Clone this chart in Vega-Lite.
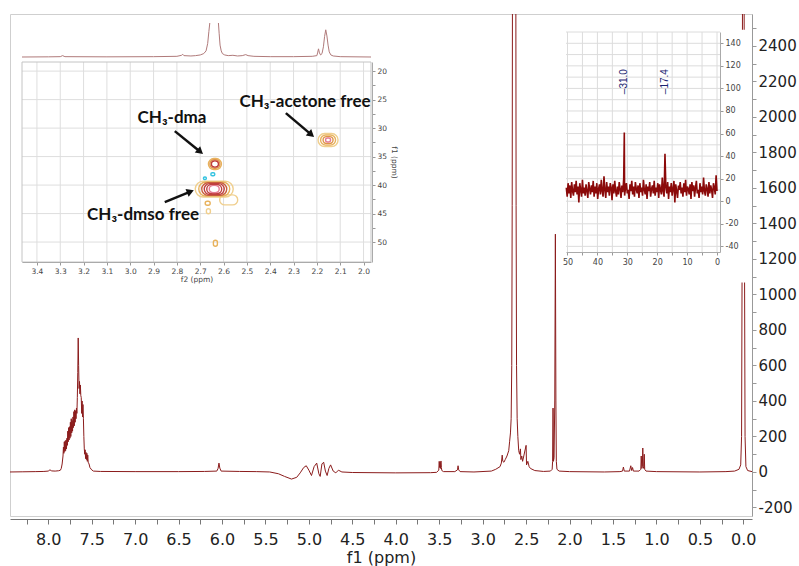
{
  "$schema": "https://vega.github.io/schema/vega-lite/v6.json",
  "width": 742,
  "height": 502,
  "autosize": {"type": "none"},
  "padding": {"left": 10, "top": 14, "right": 47, "bottom": 50},
  "background": "white",
  "config": {
    "font": "DejaVu Sans",
    "view": {"stroke": "#cfcfcf", "strokeWidth": 1},
    "axis": {"labelOverlap": false, "labelFlush": false, "grid": false, "labelBound": false}
  },
  "datasets": {
    "main": [
      {"p": 8.44, "i": 0}, {"p": 8.3, "i": 1}, {"p": 8.15, "i": 2}, {"p": 8.05, "i": 3}, {"p": 8.0, "i": 5}, {"p": 7.98, "i": 12}, {"p": 7.96, "i": 6}, {"p": 7.92, "i": 5}, {"p": 7.88, "i": 7},
      {"p": 7.86, "i": 10}, {"p": 7.85, "i": 20}, {"p": 7.84, "i": 45}, {"p": 7.83, "i": 90}, {"p": 7.825, "i": 140}, {"p": 7.82, "i": 105}, {"p": 7.815, "i": 170}, {"p": 7.81, "i": 115}, {"p": 7.805, "i": 175}, {"p": 7.8, "i": 120}, {"p": 7.795, "i": 180}, {"p": 7.79, "i": 130}, {"p": 7.785, "i": 190}, {"p": 7.78, "i": 150}, {"p": 7.775, "i": 230}, {"p": 7.77, "i": 170}, {"p": 7.765, "i": 250}, {"p": 7.76, "i": 180}, {"p": 7.755, "i": 255}, {"p": 7.75, "i": 190}, {"p": 7.745, "i": 280}, {"p": 7.74, "i": 200}, {"p": 7.735, "i": 300}, {"p": 7.73, "i": 220}, {"p": 7.725, "i": 290}, {"p": 7.72, "i": 230}, {"p": 7.715, "i": 310}, {"p": 7.71, "i": 250}, {"p": 7.705, "i": 340}, {"p": 7.7, "i": 260}, {"p": 7.695, "i": 350}, {"p": 7.69, "i": 280}, {"p": 7.685, "i": 345}, {"p": 7.68, "i": 300}, {"p": 7.675, "i": 360}, {"p": 7.67, "i": 330}, {"p": 7.665, "i": 420}, {"p": 7.66, "i": 560}, {"p": 7.655, "i": 755}, {"p": 7.65, "i": 600}, {"p": 7.645, "i": 470}, {"p": 7.64, "i": 510}, {"p": 7.635, "i": 440}, {"p": 7.63, "i": 490}, {"p": 7.625, "i": 430}, {"p": 7.62, "i": 420}, {"p": 7.615, "i": 330}, {"p": 7.61, "i": 400}, {"p": 7.605, "i": 310}, {"p": 7.6, "i": 380}, {"p": 7.595, "i": 300}, {"p": 7.59, "i": 200}, {"p": 7.585, "i": 130}, {"p": 7.58, "i": 100}, {"p": 7.575, "i": 125}, {"p": 7.57, "i": 75}, {"p": 7.565, "i": 110}, {"p": 7.56, "i": 70}, {"p": 7.555, "i": 105}, {"p": 7.55, "i": 60}, {"p": 7.545, "i": 95}, {"p": 7.54, "i": 55}, {"p": 7.53, "i": 45}, {"p": 7.52, "i": 25}, {"p": 7.5, "i": 12}, {"p": 7.48, "i": 5},
      {"p": 7.4, "i": 3}, {"p": 7.0, "i": 2}, {"p": 6.5, "i": 2}, {"p": 6.2, "i": 3}, {"p": 6.06, "i": 5}, {"p": 6.045, "i": 20}, {"p": 6.035, "i": 50}, {"p": 6.025, "i": 22}, {"p": 6.01, "i": 5}, {"p": 5.8, "i": 3}, {"p": 5.6, "i": 2},
      {"p": 5.45, "i": 0}, {"p": 5.35, "i": -10}, {"p": 5.28, "i": -25}, {"p": 5.2, "i": -40}, {"p": 5.14, "i": -30}, {"p": 5.1, "i": -5}, {"p": 5.06, "i": 25}, {"p": 5.03, "i": 35}, {"p": 5.0, "i": 10}, {"p": 4.97, "i": -20}, {"p": 4.94, "i": 30}, {"p": 4.91, "i": 50}, {"p": 4.885, "i": -10}, {"p": 4.87, "i": -25}, {"p": 4.85, "i": 45}, {"p": 4.83, "i": 55}, {"p": 4.81, "i": 5}, {"p": 4.79, "i": -20}, {"p": 4.77, "i": 20}, {"p": 4.75, "i": 40}, {"p": 4.72, "i": 5}, {"p": 4.69, "i": -5}, {"p": 4.66, "i": 10}, {"p": 4.62, "i": 0}, {"p": 4.5, "i": -3}, {"p": 4.0, "i": -5}, {"p": 3.6, "i": -4},
      {"p": 3.53, "i": -2}, {"p": 3.505, "i": 10}, {"p": 3.5, "i": 60}, {"p": 3.495, "i": 25}, {"p": 3.49, "i": 55}, {"p": 3.485, "i": 20}, {"p": 3.48, "i": 62}, {"p": 3.475, "i": 25}, {"p": 3.47, "i": 8}, {"p": 3.45, "i": 2}, {"p": 3.32, "i": 2}, {"p": 3.29, "i": 12}, {"p": 3.283, "i": 35}, {"p": 3.276, "i": 12}, {"p": 3.26, "i": 2}, {"p": 3.1, "i": 0},
      {"p": 2.9, "i": 5}, {"p": 2.85, "i": 15}, {"p": 2.8, "i": 30}, {"p": 2.785, "i": 50}, {"p": 2.775, "i": 95}, {"p": 2.768, "i": 60}, {"p": 2.755, "i": 55}, {"p": 2.74, "i": 70}, {"p": 2.72, "i": 90}, {"p": 2.7, "i": 120}, {"p": 2.69, "i": 170}, {"p": 2.68, "i": 220}, {"p": 2.672, "i": 300}, {"p": 2.665, "i": 600}, {"p": 2.66, "i": 1500}, {"p": 2.655, "i": 3500}, {"p": 2.637, "i": 5000}, {"p": 2.62, "i": 3500}, {"p": 2.615, "i": 1500}, {"p": 2.61, "i": 600}, {"p": 2.603, "i": 300}, {"p": 2.595, "i": 200}, {"p": 2.585, "i": 120}, {"p": 2.575, "i": 100}, {"p": 2.565, "i": 130}, {"p": 2.56, "i": 70}, {"p": 2.55, "i": 90}, {"p": 2.54, "i": 60}, {"p": 2.5, "i": 150}, {"p": 2.495, "i": 40}, {"p": 2.48, "i": 60}, {"p": 2.465, "i": 30}, {"p": 2.45, "i": 20}, {"p": 2.4, "i": 8}, {"p": 2.3, "i": 3},
      {"p": 2.22, "i": 5}, {"p": 2.2, "i": 15}, {"p": 2.195, "i": 60}, {"p": 2.19, "i": 360}, {"p": 2.185, "i": 60}, {"p": 2.178, "i": 80}, {"p": 2.17, "i": 400}, {"p": 2.163, "i": 1340}, {"p": 2.157, "i": 400}, {"p": 2.152, "i": 60}, {"p": 2.145, "i": 15}, {"p": 2.12, "i": 5}, {"p": 2.0, "i": 2}, {"p": 1.6, "i": 0},
      {"p": 1.42, "i": 2}, {"p": 1.39, "i": 5}, {"p": 1.38, "i": 28}, {"p": 1.37, "i": 5}, {"p": 1.31, "i": 5}, {"p": 1.295, "i": 35}, {"p": 1.285, "i": 8}, {"p": 1.275, "i": 25}, {"p": 1.265, "i": 5}, {"p": 1.2, "i": 5}, {"p": 1.18, "i": 15}, {"p": 1.175, "i": 90}, {"p": 1.168, "i": 20}, {"p": 1.162, "i": 30}, {"p": 1.157, "i": 135}, {"p": 1.152, "i": 30}, {"p": 1.145, "i": 20}, {"p": 1.14, "i": 100}, {"p": 1.135, "i": 15}, {"p": 1.12, "i": 5}, {"p": 1.0, "i": 2}, {"p": 0.5, "i": 0}, {"p": 0.2, "i": 2},
      {"p": 0.1, "i": 5}, {"p": 0.05, "i": 15}, {"p": 0.03, "i": 40}, {"p": 0.02, "i": 200}, {"p": 0.012, "i": 1500}, {"p": 0.005, "i": 5000}, {"p": -0.005, "i": 5000}, {"p": -0.012, "i": 1500}, {"p": -0.02, "i": 200}, {"p": -0.03, "i": 30}, {"p": -0.05, "i": 8}, {"p": -0.1, "i": 2}
    ],
    "noise": [
      {"c": 50.4, "v": 12}, {"c": 50.1, "v": 4}, {"c": 49.8, "v": 16}, {"c": 49.5, "v": 7}, {"c": 49.2, "v": 14}, {"c": 48.9, "v": 3}, {"c": 48.6, "v": 17}, {"c": 48.3, "v": 9}, {"c": 48.0, "v": 5}, {"c": 47.7, "v": 15},
      {"c": 47.4, "v": 8}, {"c": 47.1, "v": 18}, {"c": 46.8, "v": 6}, {"c": 46.5, "v": 13}, {"c": 46.2, "v": -1}, {"c": 45.9, "v": 16}, {"c": 45.6, "v": 10}, {"c": 45.3, "v": 4}, {"c": 45.0, "v": 19}, {"c": 44.7, "v": 7},
      {"c": 44.4, "v": 12}, {"c": 44.1, "v": 5}, {"c": 43.8, "v": 15}, {"c": 43.5, "v": 9}, {"c": 43.2, "v": 3}, {"c": 42.9, "v": 17}, {"c": 42.6, "v": 11}, {"c": 42.3, "v": 6}, {"c": 42.0, "v": 14}, {"c": 41.7, "v": 8},
      {"c": 41.4, "v": 18}, {"c": 41.1, "v": 4}, {"c": 40.8, "v": 13}, {"c": 40.5, "v": 7}, {"c": 40.2, "v": 16}, {"c": 39.9, "v": 2}, {"c": 39.6, "v": 11}, {"c": 39.3, "v": 15}, {"c": 39.0, "v": 6}, {"c": 38.7, "v": 19},
      {"c": 38.4, "v": 9}, {"c": 38.1, "v": 4}, {"c": 37.8, "v": 22}, {"c": 37.5, "v": 10}, {"c": 37.2, "v": 3}, {"c": 36.9, "v": 17}, {"c": 36.6, "v": 8}, {"c": 36.3, "v": 13}, {"c": 36.0, "v": 5}, {"c": 35.7, "v": 16},
      {"c": 35.4, "v": 12}, {"c": 35.1, "v": 1}, {"c": 34.8, "v": 15}, {"c": 34.5, "v": 7}, {"c": 34.2, "v": 18}, {"c": 33.9, "v": 9}, {"c": 33.6, "v": 4}, {"c": 33.3, "v": 13}, {"c": 33.0, "v": 6}, {"c": 32.7, "v": 17},
      {"c": 32.4, "v": 11}, {"c": 32.1, "v": 3}, {"c": 31.8, "v": 14}, {"c": 31.5, "v": 8}, {"c": 31.2, "v": 20}, {"c": 31.0, "v": 61}, {"c": 30.9, "v": 5}, {"c": 30.6, "v": 12}, {"c": 30.3, "v": 16}, {"c": 30.0, "v": 7}, {"c": 29.7, "v": 10},
      {"c": 29.4, "v": 2}, {"c": 29.1, "v": 15}, {"c": 28.8, "v": 9}, {"c": 28.5, "v": 18}, {"c": 28.2, "v": 6}, {"c": 27.9, "v": 13}, {"c": 27.6, "v": 4}, {"c": 27.3, "v": 17}, {"c": 27.0, "v": 11}, {"c": 26.7, "v": 7},
      {"c": 26.4, "v": 14}, {"c": 26.1, "v": 3}, {"c": 25.8, "v": 16}, {"c": 25.5, "v": 8}, {"c": 25.2, "v": 12}, {"c": 24.9, "v": 5}, {"c": 24.6, "v": 19}, {"c": 24.3, "v": 10}, {"c": 24.0, "v": 6}, {"c": 23.7, "v": 15},
      {"c": 23.4, "v": 2}, {"c": 23.1, "v": 13}, {"c": 22.8, "v": 9}, {"c": 22.5, "v": 17}, {"c": 22.2, "v": 4}, {"c": 21.9, "v": 11}, {"c": 21.6, "v": 14}, {"c": 21.3, "v": 7}, {"c": 21.0, "v": 18}, {"c": 20.7, "v": 5},
      {"c": 20.4, "v": 12}, {"c": 20.1, "v": 8}, {"c": 19.8, "v": 16}, {"c": 19.5, "v": 3}, {"c": 19.2, "v": 15}, {"c": 18.9, "v": 10}, {"c": 18.6, "v": 6}, {"c": 18.3, "v": 21}, {"c": 18.0, "v": 9}, {"c": 17.7, "v": 4},
      {"c": 17.4, "v": 42}, {"c": 17.1, "v": 12}, {"c": 16.8, "v": 7}, {"c": 16.5, "v": 17}, {"c": 16.2, "v": 2}, {"c": 15.9, "v": 13}, {"c": 15.6, "v": 8}, {"c": 15.3, "v": 16}, {"c": 15.0, "v": 5}, {"c": 14.7, "v": 11},
      {"c": 14.4, "v": 18}, {"c": 14.1, "v": -1}, {"c": 13.8, "v": 15}, {"c": 13.5, "v": 9}, {"c": 13.2, "v": 3}, {"c": 12.9, "v": 14}, {"c": 12.6, "v": 10}, {"c": 12.3, "v": 17}, {"c": 12.0, "v": 7}, {"c": 11.7, "v": 12},
      {"c": 11.4, "v": 4}, {"c": 11.1, "v": 16}, {"c": 10.8, "v": 8}, {"c": 10.5, "v": 19}, {"c": 10.2, "v": 5}, {"c": 9.9, "v": 13}, {"c": 9.6, "v": 11}, {"c": 9.3, "v": 6}, {"c": 9.0, "v": 15}, {"c": 8.7, "v": 2},
      {"c": 8.4, "v": 17}, {"c": 8.1, "v": 9}, {"c": 7.8, "v": 14}, {"c": 7.5, "v": 4}, {"c": 7.2, "v": 12}, {"c": 6.9, "v": 18}, {"c": 6.6, "v": 7}, {"c": 6.3, "v": 10}, {"c": 6.0, "v": 3}, {"c": 5.7, "v": 16},
      {"c": 5.4, "v": 8}, {"c": 5.1, "v": 13}, {"c": 4.8, "v": 6}, {"c": 4.5, "v": 21}, {"c": 4.2, "v": 9}, {"c": 3.9, "v": 5}, {"c": 3.6, "v": 15}, {"c": 3.3, "v": 11}, {"c": 3.0, "v": 4}, {"c": 2.7, "v": 17},
      {"c": 2.4, "v": 7}, {"c": 2.1, "v": 14}, {"c": 1.8, "v": 10}, {"c": 1.5, "v": 3}, {"c": 1.2, "v": 16}, {"c": 0.9, "v": 12}, {"c": 0.6, "v": 6}, {"c": 0.3, "v": 23}, {"c": 0.0, "v": 9}
    ],
    "peaks13": [{"c": 31.0, "t": "–31.0"}, {"c": 17.4, "t": "–17.4"}],
    "proj": [
      {"p": 3.464, "i": 0, "seg": "a"}, {"p": 3.35, "i": 0.5, "seg": "a"}, {"p": 3.3, "i": 1, "seg": "a"}, {"p": 3.29, "i": 4, "seg": "a"}, {"p": 3.28, "i": 1, "seg": "a"}, {"p": 3.1, "i": 0.5, "seg": "a"}, {"p": 2.9, "i": 1, "seg": "a"}, {"p": 2.8, "i": 2, "seg": "a"}, {"p": 2.78, "i": 5, "seg": "a"}, {"p": 2.775, "i": 8, "seg": "a"}, {"p": 2.77, "i": 4, "seg": "a"}, {"p": 2.74, "i": 3, "seg": "a"}, {"p": 2.72, "i": 4, "seg": "a"}, {"p": 2.7, "i": 6, "seg": "a"}, {"p": 2.685, "i": 10, "seg": "a"}, {"p": 2.675, "i": 18, "seg": "a"}, {"p": 2.668, "i": 40, "seg": "a"}, {"p": 2.663, "i": 75, "seg": "a"}, {"p": 2.659, "i": 100, "seg": "a"},
      {"p": 2.622, "i": 100, "seg": "b"}, {"p": 2.619, "i": 70, "seg": "b"}, {"p": 2.615, "i": 35, "seg": "b"}, {"p": 2.61, "i": 18, "seg": "b"}, {"p": 2.605, "i": 10, "seg": "b"}, {"p": 2.595, "i": 6, "seg": "b"}, {"p": 2.58, "i": 4, "seg": "b"}, {"p": 2.56, "i": 5, "seg": "b"}, {"p": 2.54, "i": 3, "seg": "b"}, {"p": 2.52, "i": 4, "seg": "b"}, {"p": 2.505, "i": 7, "seg": "b"}, {"p": 2.495, "i": 4, "seg": "b"}, {"p": 2.47, "i": 2, "seg": "b"}, {"p": 2.4, "i": 1, "seg": "b"}, {"p": 2.3, "i": 1, "seg": "b"}, {"p": 2.22, "i": 2, "seg": "b"}, {"p": 2.2, "i": 4, "seg": "b"}, {"p": 2.197, "i": 12, "seg": "b"}, {"p": 2.193, "i": 24, "seg": "b"}, {"p": 2.189, "i": 12, "seg": "b"}, {"p": 2.184, "i": 6, "seg": "b"}, {"p": 2.178, "i": 10, "seg": "b"}, {"p": 2.172, "i": 30, "seg": "b"}, {"p": 2.167, "i": 60, "seg": "b"}, {"p": 2.162, "i": 80, "seg": "b"}, {"p": 2.157, "i": 62, "seg": "b"}, {"p": 2.152, "i": 35, "seg": "b"}, {"p": 2.147, "i": 15, "seg": "b"}, {"p": 2.14, "i": 6, "seg": "b"}, {"p": 2.13, "i": 3, "seg": "b"}, {"p": 2.1, "i": 1, "seg": "b"}, {"p": 1.968, "i": 0, "seg": "b"}
    ],
    "contour": [
      {"x1": 2.7214, "x2": 2.5586, "y1": 39.3, "y2": 42.1, "lvl": "1"},
      {"x1": 2.6166, "x2": 2.5394, "y1": 41.72, "y2": 43.48, "lvl": "1"},
      {"x1": 2.7064, "x2": 2.5736, "y1": 39.47, "y2": 41.93, "lvl": "2"},
      {"x1": 2.6936, "x2": 2.5864, "y1": 39.6, "y2": 41.8, "lvl": "4"},
      {"x1": 2.6829, "x2": 2.5971, "y1": 39.74, "y2": 41.67, "lvl": "5"},
      {"x1": 2.6721, "x2": 2.6079, "y1": 39.91, "y2": 41.49, "lvl": "5"},
      {"x1": 2.6614, "x2": 2.6186, "y1": 40.09, "y2": 41.31, "lvl": "6"},
      {"x1": 2.6507, "x2": 2.6293, "y1": 40.35, "y2": 41.05, "lvl": "7"},
      {"x1": 2.6649, "x2": 2.6091, "y1": 35.34, "y2": 37.27, "lvl": "2"},
      {"x1": 2.6584, "x2": 2.6156, "y1": 35.55, "y2": 37.05, "lvl": "3"},
      {"x1": 2.652, "x2": 2.622, "y1": 35.77, "y2": 36.83, "lvl": "5"},
      {"x1": 2.6445, "x2": 2.6295, "y1": 36.04, "y2": 36.56, "lvl": "7"},
      {"x1": 2.1949, "x2": 2.1091, "y1": 30.96, "y2": 33.24, "lvl": "1"},
      {"x1": 2.1841, "x2": 2.1199, "y1": 31.22, "y2": 32.98, "lvl": "2"},
      {"x1": 2.1734, "x2": 2.1306, "y1": 31.49, "y2": 32.71, "lvl": "3"},
      {"x1": 2.1627, "x2": 2.1413, "y1": 31.75, "y2": 32.45, "lvl": "6"},
      {"x1": 2.6787, "x2": 2.6573, "y1": 42.85, "y2": 43.55, "lvl": "2"},
      {"x1": 2.6736, "x2": 2.6564, "y1": 44.16, "y2": 45.04, "lvl": "1"},
      {"x1": 2.6436, "x2": 2.6264, "y1": 49.67, "y2": 50.73, "lvl": "2"},
      {"x1": 2.6546, "x2": 2.6374, "y1": 37.84, "y2": 38.36, "lvl": "c"},
      {"x1": 2.6864, "x2": 2.6736, "y1": 38.58, "y2": 39.02, "lvl": "c"}
    ],
    "arrows": [
      {"x": 2.809, "y": 30.53, "x2": 2.7, "y2": 34.15, "dir": "down"},
      {"x": 2.333, "y": 27.37, "x2": 2.224, "y2": 31.15, "dir": "down"},
      {"x": 2.852, "y": 42.98, "x2": 2.742, "y2": 41.15, "dir": "up"}
    ],
    "notes": [
      {"x": 2.821, "y": 28.25, "t": "CH₃-dma"},
      {"x": 2.945, "y": 45.26, "t": "CH₃-dmso free"},
      {"x": 2.251, "y": 25.4, "t": "CH₃-acetone free"}
    ],
    "g1v": [{"g": 3.4}, {"g": 3.3}, {"g": 3.2}, {"g": 3.1}, {"g": 3.0}, {"g": 2.9}, {"g": 2.8}, {"g": 2.7}, {"g": 2.6}, {"g": 2.5}, {"g": 2.4}, {"g": 2.3}, {"g": 2.2}, {"g": 2.1}, {"g": 2.0}],
    "g1h": [{"h": 20}, {"h": 25}, {"h": 30}, {"h": 35}, {"h": 40}, {"h": 45}, {"h": 50}],
    "g2v": [{"g": 0}, {"g": 5}, {"g": 10}, {"g": 15}, {"g": 20}, {"g": 25}, {"g": 30}, {"g": 35}, {"g": 40}, {"g": 45}, {"g": 50}],
    "g2h": [{"h": -40}, {"h": -30}, {"h": -20}, {"h": -10}, {"h": 0}, {"h": 10}, {"h": 20}, {"h": 30}, {"h": 40}, {"h": 50}, {"h": 60}, {"h": 70}, {"h": 80}, {"h": 90}, {"h": 100}, {"h": 110}, {"h": 120}, {"h": 130}, {"h": 140}, {"h": 150}]
  },
  "layer": [
    {
      "data": {"name": "main"},
      "mark": {"type": "line", "clip": true, "color": "#8b1c1c", "strokeWidth": 1},
      "encoding": {
        "x": {
          "field": "p", "type": "quantitative",
          "scale": {"domain": [-0.1, 8.44], "reverse": true, "nice": false, "zero": false},
          "axis": {
            "orient": "bottom", "offset": 3,
            "values": [8.25, 8, 7.75, 7.5, 7.25, 7, 6.75, 6.5, 6.25, 6, 5.75, 5.5, 5.25, 5, 4.75, 4.5, 4.25, 4, 3.75, 3.5, 3.25, 3, 2.75, 2.5, 2.25, 2, 1.75, 1.5, 1.25, 1, 0.75, 0.5, 0.25, 0],
            "labelExpr": "round(datum.value*4) % 2 == 0 ? format(datum.value, '.1f') : ''",
            "title": "f1 (ppm)", "titleFontSize": 16, "titleFontWeight": "normal", "titleColor": "#222", "titlePadding": 2,
            "labelFontSize": 16, "labelColor": "#222", "labelPadding": 7,
            "domainColor": "#777", "tickColor": "#777", "tickSize": 5
          }
        },
        "y": {
          "field": "i", "type": "quantitative",
          "scale": {"domain": [-248, 2580], "nice": false, "zero": false},
          "axis": {
            "orient": "right",
            "values": [-200, -100, 0, 100, 200, 300, 400, 500, 600, 700, 800, 900, 1000, 1100, 1200, 1300, 1400, 1500, 1600, 1700, 1800, 1900, 2000, 2100, 2200, 2300, 2400, 2500],
            "labelExpr": "round(datum.value) % 200 == 0 ? (datum.value < 0 ? '-' + format(-datum.value, 'd') : format(datum.value, 'd')) : ''",
            "title": null, "labelFontSize": 15, "labelColor": "#222", "labelPadding": 2,
            "domainColor": "#999", "tickColor": "#999", "tickSize": 4
          }
        }
      }
    },
    {
      "layer": [
        {
          "data": {"values": [{}]},
          "mark": {"type": "rect", "fill": "white", "stroke": null},
          "encoding": {
            "x": {"datum": 51.5, "type": "quantitative", "scale": {"domain": [-1, 50.5], "reverse": true, "range": [556, 710], "nice": false, "zero": false}},
            "x2": {"datum": -10},
            "y": {"datum": 152, "type": "quantitative", "scale": {"domain": [-45, 150], "range": [238, 18], "nice": false, "zero": false}},
            "y2": {"datum": -72}
          }
        },
        {
          "data": {"name": "g2v"},
          "mark": {"type": "rule", "color": "#dcdcdc", "strokeWidth": 1},
          "encoding": {
            "x": {"field": "g", "type": "quantitative", "scale": {"domain": [-1, 50.5], "reverse": true, "range": [556, 710], "nice": false, "zero": false}},
            "y": {"datum": -45, "type": "quantitative", "scale": {"domain": [-45, 150], "range": [238, 18], "nice": false, "zero": false}},
            "y2": {"datum": 150}
          }
        },
        {
          "data": {"name": "g2h"},
          "mark": {"type": "rule", "color": "#dcdcdc", "strokeWidth": 1},
          "encoding": {
            "x": {"datum": 50.5, "type": "quantitative", "scale": {"domain": [-1, 50.5], "reverse": true, "range": [556, 710], "nice": false, "zero": false}},
            "x2": {"datum": -1},
            "y": {"field": "h", "type": "quantitative", "scale": {"domain": [-45, 150], "range": [238, 18], "nice": false, "zero": false}}
          }
        },
        {
          "data": {"name": "noise"},
          "mark": {"type": "line", "color": "#8b0a0a", "strokeWidth": 1.6},
          "encoding": {
            "x": {
              "field": "c", "type": "quantitative",
              "scale": {"domain": [-1, 50.5], "reverse": true, "range": [556, 710], "nice": false, "zero": false},
              "axis": {
                "orient": "bottom", "offset": -264, "zindex": 3,
                "values": [0, 2.5, 5, 7.5, 10, 12.5, 15, 17.5, 20, 22.5, 25, 27.5, 30, 32.5, 35, 37.5, 40, 42.5, 45, 47.5, 50],
                "labelExpr": "round(datum.value*2) % 20 == 0 ? format(datum.value, 'd') : ''",
                "title": null, "labelFontSize": 8, "labelColor": "#444", "labelPadding": 3,
                "domainColor": "#aaa", "tickColor": "#999", "tickSize": 3
              }
            },
            "y": {
              "field": "v", "type": "quantitative",
              "scale": {"domain": [-45, 150], "range": [238, 18], "nice": false, "zero": false},
              "axis": {
                "orient": "right", "offset": -32, "zindex": 3,
                "values": [-40, -30, -20, -10, 0, 10, 20, 30, 40, 50, 60, 70, 80, 90, 100, 110, 120, 130, 140],
                "labelExpr": "round(datum.value) % 20 == 0 ? (datum.value < 0 ? '-' + format(-datum.value, 'd') : format(datum.value, 'd')) : ''",
                "title": null, "labelFontSize": 8, "labelColor": "#444", "labelPadding": 2,
                "domainColor": "#aaa", "tickColor": "#999", "tickSize": 3
              }
            }
          }
        },
        {
          "data": {"name": "peaks13"},
          "mark": {"type": "text", "angle": 270, "fontSize": 10, "color": "#1a2470", "align": "center", "baseline": "middle", "font": "Liberation Sans"},
          "encoding": {
            "x": {"field": "c", "type": "quantitative", "scale": {"domain": [-1, 50.5], "reverse": true, "range": [556, 710], "nice": false, "zero": false}},
            "y": {"datum": 106, "type": "quantitative", "scale": {"domain": [-45, 150], "range": [238, 18], "nice": false, "zero": false}},
            "text": {"field": "t"}
          }
        }
      ]
    },
    {
      "data": {"name": "proj"},
      "mark": {"type": "line", "color": "#b07a7a", "strokeWidth": 1},
      "encoding": {
        "x": {"field": "p", "type": "quantitative", "scale": {"domain": [1.968, 3.464], "reverse": true, "range": [12, 361], "nice": false, "zero": false}, "axis": null},
        "y": {"field": "i", "type": "quantitative", "scale": {"domain": [0, 100], "range": [43, 9], "nice": false, "zero": false}, "axis": null},
        "detail": {"field": "seg"}
      }
    },
    {
      "layer": [
        {
          "data": {"name": "g1v"},
          "mark": {"type": "rule", "color": "#dedede", "strokeWidth": 1},
          "encoding": {
            "x": {"field": "g", "type": "quantitative", "scale": {"domain": [1.968, 3.464], "reverse": true, "range": [12, 361], "nice": false, "zero": false}},
            "y": {"datum": 18.4, "type": "quantitative", "scale": {"domain": [18.4, 53.5], "range": [48, 248], "nice": false, "zero": false}},
            "y2": {"datum": 53.5}
          }
        },
        {
          "data": {"name": "g1h"},
          "mark": {"type": "rule", "color": "#dedede", "strokeWidth": 1},
          "encoding": {
            "x": {"datum": 3.464, "type": "quantitative", "scale": {"domain": [1.968, 3.464], "reverse": true, "range": [12, 361], "nice": false, "zero": false}},
            "x2": {"datum": 1.968},
            "y": {"field": "h", "type": "quantitative", "scale": {"domain": [18.4, 53.5], "range": [48, 248], "nice": false, "zero": false}}
          }
        },
        {
          "data": {"values": [{}]},
          "mark": {"type": "rect", "fill": null, "stroke": "#c4c4c4", "strokeWidth": 1},
          "encoding": {
            "x": {"datum": 3.464, "type": "quantitative", "scale": {"domain": [1.968, 3.464], "reverse": true, "range": [12, 361], "nice": false, "zero": false}},
            "x2": {"datum": 1.968},
            "y": {"datum": 18.4, "type": "quantitative", "scale": {"domain": [18.4, 53.5], "range": [48, 248], "nice": false, "zero": false}},
            "y2": {"datum": 53.5}
          }
        },
        {
          "data": {"name": "contour"},
          "mark": {"type": "rect", "filled": false, "cornerRadius": 40, "strokeWidth": 1.4},
          "encoding": {
            "x": {
              "field": "x1", "type": "quantitative",
              "scale": {"domain": [1.968, 3.464], "reverse": true, "range": [12, 361], "nice": false, "zero": false},
              "axis": {
                "orient": "bottom", "offset": -254, "zindex": 3,
                "values": [3.4, 3.35, 3.3, 3.25, 3.2, 3.15, 3.1, 3.05, 3.0, 2.95, 2.9, 2.85, 2.8, 2.75, 2.7, 2.65, 2.6, 2.55, 2.5, 2.45, 2.4, 2.35, 2.3, 2.25, 2.2, 2.15, 2.1, 2.05, 2.0],
                "labelExpr": "round(datum.value*20) % 2 == 0 ? format(datum.value, '.1f') : ''",
                "title": "f2 (ppm)", "titleFontSize": 7.5, "titleFontWeight": "normal", "titleColor": "#444", "titlePadding": 1,
                "labelFontSize": 7.5, "labelColor": "#444", "labelPadding": 2,
                "domainColor": "#aaa", "tickColor": "#999", "tickSize": 3
              }
            },
            "x2": {"field": "x2"},
            "y": {
              "field": "y1", "type": "quantitative",
              "scale": {"domain": [18.4, 53.5], "range": [48, 248], "nice": false, "zero": false},
              "axis": {
                "orient": "right", "offset": -380, "zindex": 3,
                "values": [20, 22.5, 25, 27.5, 30, 32.5, 35, 37.5, 40, 42.5, 45, 47.5, 50],
                "labelExpr": "round(datum.value*2) % 10 == 0 ? format(datum.value, 'd') : ''",
                "title": "f1 (ppm)", "titleFontSize": 7.5, "titleFontWeight": "normal", "titleColor": "#444", "titlePadding": 3,
                "labelFontSize": 7.5, "labelColor": "#444", "labelPadding": 2,
                "domainColor": "#aaa", "tickColor": "#999", "tickSize": 3
              }
            },
            "y2": {"field": "y2"},
            "color": {
              "field": "lvl", "type": "nominal", "legend": null,
              "scale": {"domain": ["1", "2", "3", "4", "5", "6", "7", "c"], "range": ["#f0cf8e", "#e8b25c", "#df9447", "#c9603c", "#c0403e", "#e47c92", "#ffffff", "#35c3e0"]}
            }
          }
        },
        {
          "data": {"name": "arrows"},
          "mark": {"type": "rule", "color": "#111", "strokeWidth": 2.5},
          "encoding": {
            "x": {"field": "x", "type": "quantitative", "scale": {"domain": [1.968, 3.464], "reverse": true, "range": [12, 361], "nice": false, "zero": false}},
            "x2": {"field": "x2"},
            "y": {"field": "y", "type": "quantitative", "scale": {"domain": [18.4, 53.5], "range": [48, 248], "nice": false, "zero": false}},
            "y2": {"field": "y2"}
          }
        },
        {
          "data": {"name": "arrows"},
          "transform": [{"filter": "datum.dir == 'down'"}],
          "mark": {"type": "point", "shape": "triangle-right", "filled": true, "color": "#111", "size": 70, "angle": 40, "opacity": 1},
          "encoding": {
            "x": {"field": "x2", "type": "quantitative", "scale": {"domain": [1.968, 3.464], "reverse": true, "range": [12, 361], "nice": false, "zero": false}},
            "y": {"field": "y2", "type": "quantitative", "scale": {"domain": [18.4, 53.5], "range": [48, 248], "nice": false, "zero": false}}
          }
        },
        {
          "data": {"name": "arrows"},
          "transform": [{"filter": "datum.dir == 'up'"}],
          "mark": {"type": "point", "shape": "triangle-right", "filled": true, "color": "#111", "size": 70, "angle": 338, "opacity": 1},
          "encoding": {
            "x": {"field": "x2", "type": "quantitative", "scale": {"domain": [1.968, 3.464], "reverse": true, "range": [12, 361], "nice": false, "zero": false}},
            "y": {"field": "y2", "type": "quantitative", "scale": {"domain": [18.4, 53.5], "range": [48, 248], "nice": false, "zero": false}}
          }
        },
        {
          "data": {"name": "notes"},
          "mark": {"type": "text", "font": "Lato", "fontWeight": "bold", "fontSize": 17, "color": "#111", "align": "center", "baseline": "middle"},
          "encoding": {
            "x": {"field": "x", "type": "quantitative", "scale": {"domain": [1.968, 3.464], "reverse": true, "range": [12, 361], "nice": false, "zero": false}},
            "y": {"field": "y", "type": "quantitative", "scale": {"domain": [18.4, 53.5], "range": [48, 248], "nice": false, "zero": false}},
            "text": {"field": "t"}
          }
        }
      ]
    }
  ],
  "resolve": {"scale": {"x": "independent", "y": "independent"}}
}
